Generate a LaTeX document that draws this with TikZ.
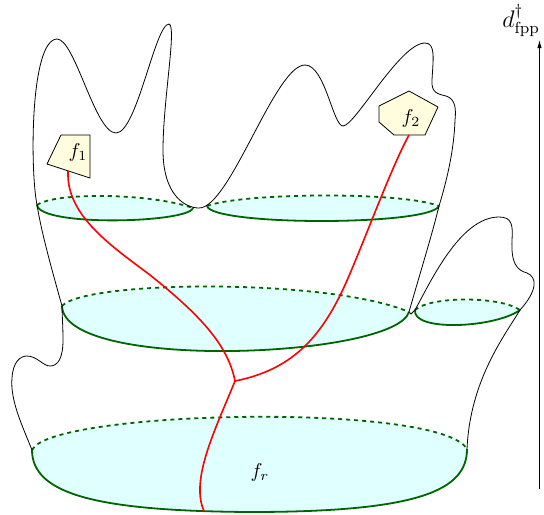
\documentclass[tikz,border=0pt]{standalone}
\usetikzlibrary{arrows.meta}
\definecolor{figcyan}{RGB}{224,255,255}
\definecolor{figgreen}{RGB}{0,100,0}
\definecolor{figyellow}{RGB}{255,253,222}
\tikzset{
  outline/.style={draw=black,line width=0.4pt},
  rim/.style={draw=figgreen,line width=0.9pt},
  rimback/.style={rim,dash pattern=on 2pt off 2pt},
  face/.style={fill=figcyan},
  geod/.style={draw=red,line width=0.8pt},
  leaf/.style={draw=black,line width=0.4pt,fill=figyellow,line join=round},
  lbl/.style={inner sep=1pt},
  ln/.style={-{Latex[length=4pt,width=2.2pt]},line width=0.4pt},
}
\begin{document}
\begin{tikzpicture}[x=0.5pt,y=-0.5pt]
\useasboundingbox (0,0) rectangle (544,514);

% rim end points
\coordinate (aL) at (37,205);  \coordinate (aR) at (193,208);
\coordinate (tL) at (207,206); \coordinate (tR) at (439,206);
\coordinate (cL) at (62,306);  \coordinate (cR) at (409,312);
\coordinate (sL) at (415,310); \coordinate (sR) at (520,310);
\coordinate (bL) at (32,450);  \coordinate (bR) at (467,449);

% cuts: fill
\fill[face] (aL) .. controls (55,192) and (150,193) .. (aR)
  .. controls (188,223) and (40,227) .. (aL) -- cycle;
\fill[face] (tL) .. controls (240,193) and (400,191) .. (tR)
  .. controls (430,226) and (212,226) .. (tL) -- cycle;
\fill[face] (cL) .. controls (85,280) and (330,278) .. (cR)
  .. controls (395,358) and (64,372) .. (cL) -- cycle;
\fill[face] (sL) .. controls (430,296) and (500,296) .. (sR)
  .. controls (495,328) and (412,332) .. (sL) -- cycle;
\fill[face] (bL) .. controls (50,410) and (440,402) .. (bR)
  .. controls (467,490) and (420,512) .. (250,512)
  .. controls (100,511) and (32,495) .. (bL) -- cycle;

% cuts: back halves
\draw[rimback] (aL) .. controls (55,192) and (150,193) .. (aR);
\draw[rimback] (tL) .. controls (240,193) and (400,191) .. (tR);
\draw[rimback] (cL) .. controls (85,280) and (330,278) .. (cR);
\draw[rimback] (sL) .. controls (430,296) and (500,296) .. (sR);
\draw[rimback] (bL) .. controls (50,410) and (440,402) .. (bR);

% cuts: front halves
\draw[rim] (aL) .. controls (40,227) and (188,223) .. (aR);
\draw[rim] (tL) .. controls (212,226) and (430,226) .. (tR);
\draw[rim] (cL) .. controls (64,372) and (395,358) .. (cR);
\draw[rim] (sL) .. controls (412,332) and (495,328) .. (sR);
\draw[rim] (bL) .. controls (32,495) and (100,511) .. (250,512)
  .. controls (420,512) and (467,490) .. (bR);

% surface outline, left side
\draw[outline] (bL) .. controls (22,425) and (10,400) .. (12,378)
  .. controls (13,362) and (20,356) .. (27,356)
  .. controls (37,356) and (43,366) .. (50,366)
  .. controls (58,366) and (63,358) .. (63,340)
  .. controls (63,325) and (62,315) .. (cL);
% surface outline, top
\draw[outline] (cL) .. controls (52,270) and (42,235) .. (aL)
  .. controls (30,170) and (30,40) .. (57,39)
  .. controls (75,39) and (95,133) .. (116,133)
  .. controls (137,133) and (155,24) .. (169,24)
  .. controls (177,26) and (163,100) .. (163,150)
  .. controls (163,195) and (185,208) .. (199,208)
  .. controls (230,208) and (275,65) .. (305,65)
  .. controls (325,65) and (333,126) .. (343,126)
  .. controls (355,126) and (400,43) .. (425,43)
  .. controls (436,43) and (433,60) .. (432,80)
  .. controls (431,93) and (438,94) .. (446,96)
  .. controls (456,99) and (456,110) .. (455,120)
  .. controls (454,150) and (447,180) .. (tR)
  .. controls (432,235) and (418,280) .. (cR);
\draw[outline] (cR) -- (411,314) -- (sL);
% surface outline, right lobe
\draw[outline] (sL) .. controls (430,283) and (460,217) .. (499,217)
  .. controls (512,217) and (513,225) .. (512,240)
  .. controls (511,262) and (516,270) .. (527,273)
  .. controls (537,277) and (538,290) .. (sR)
  .. controls (505,335) and (470,380) .. (bR);

% leaves
\draw[leaf] (47,164) -- (61,135) -- (90,135) -- (90,178) -- cycle;
\draw[leaf] (409,91) -- (438,107) -- (425,135) -- (394,135) -- (379,122)
  -- (379,106) -- cycle;
\node[lbl] (f1) at (78,152) {$f_1$};
\node[lbl] (f2) at (411,118) {$f_2$};
\node[lbl] (fr) at (260,472) {$f_r$};

% geodesics
\coordinate (f1foot) at (68,171);
\coordinate (f2foot) at (409,135);
\coordinate (j) at (235,381);
\coordinate (rfoot) at (204,511);
\draw[geod] (f1foot) .. controls (66,215) and (110,245) .. (150,275)
  .. controls (200,315) and (228,345) .. (j);
\draw[geod] (f2foot) .. controls (390,170) and (365,240) .. (345,285)
  .. controls (320,340) and (290,370) .. (j);
\draw[geod] (j) .. controls (215,430) and (190,480) .. (rfoot);

% axis
\coordinate (axbot) at (539.5,489);
\coordinate (axtop) at (539.5,40);
\draw[ln] (axbot) -- (axtop);
\node[anchor=base west,inner sep=0pt,font=\large] (dfpp) at (502,27) {$d^\dagger_{\mathrm{fpp}}$};

\end{tikzpicture}
\end{document}
